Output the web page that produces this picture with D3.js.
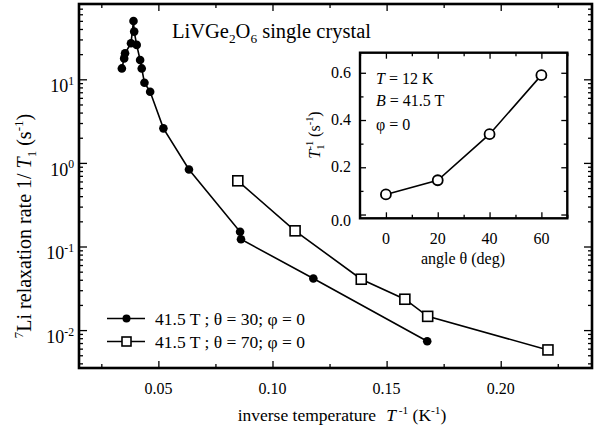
<!DOCTYPE html>
<html><head><meta charset="utf-8">
<script src="https://cdn.jsdelivr.net/npm/d3@7"></script>
<style>
body{margin:0;background:#fff}
svg text{font-family:"Liberation Serif","Times New Roman","DejaVu Serif",serif;fill:#000}
</style>
</head><body>
<svg id="c" width="597" height="434" font-family="Liberation Serif, Times New Roman, serif"></svg>
<script>
// ---- data ----
const theta30X = [0.0340,0.0350,0.0354,0.0380,0.0391,0.0394,0.0405,0.0420,0.0427,0.0439,0.0464,0.0522,0.0634,0.0858,0.0862,0.1179,0.1678];
const theta30Y = [13.5,17.8,20.5,27.0,49.9,37.2,25.8,17.0,13.5,9.1,7.1,2.59,0.835,0.150,0.122,0.0414,0.00734];
const theta70X = [0.0848,0.1099,0.1389,0.1580,0.1680,0.2207];
const theta70Y = [0.611,0.154,0.0406,0.0234,0.0146,0.00579];
const insetAngle = [0,20,40,60];
const insetRate = [0.085,0.145,0.34,0.59];
const xTickVals = [0.05,0.10,0.15,0.20];
const xTickLabels = ["0.05","0.10","0.15","0.20"];
const xMinorVals = [0.025,0.075,0.125,0.175,0.225];
const yTickVals = [0.01,0.1,1,10];
const yTickExp = ["-2","-1","0","1"];
const insetXTicks = [0,20,40,60];
const insetXMinor = [-10,10,30,50,70];
const insetYTicks = [0,0.2,0.4,0.6];
const insetYLabels = ["0.0","0.2","0.4","0.6"];
const insetYMinor = [0.1,0.3,0.5];
const legendLabels = ["41.5 T ; \u03B8 = 30; \u03C6 = 0","41.5 T ; \u03B8 = 70; \u03C6 = 0"];

const svg = d3.select("#c");

function rich(sel, parts, fs){
  let shift = 0;
  parts.forEach(p=>{
    const [s,k,dx] = p;
    const t = sel.append("tspan").text(s);
    let target = 0;
    if(k==="sup"){ t.attr("font-size", fs*0.65); target = -fs*0.42; }
    else if(k==="sub"){ t.attr("font-size", fs*0.65); target = fs*0.25; }
    if(k==="i") t.attr("font-style","italic");
    const dy = target - shift;
    if(dy) t.attr("dy", dy);
    if(dx) t.attr("dx", dx);
    shift = target;
  });
  return sel;
}

// ---- main scales ----
const L=79, R=592, T=4, B=368;
const x = d3.scaleLinear().domain([0.015,0.24]).range([78.5,R]);
const y = d3.scaleLog().domain([0.00352,79.6]).range([B,T]);

const yMinor = [];
[0.001,0.01,0.1,1,10].forEach(d=>{ for(let m=2;m<=9;m++){ const v=d*m; if(v>=y.domain()[0]&&v<=y.domain()[1]) yMinor.push(v);} });

function ticks(axisFn, scale, vals, size, tr){
  svg.append("g").attr("transform",tr)
    .call(axisFn(scale).tickValues(vals).tickSize(size).tickFormat(""))
    .call(g=>g.select(".domain").remove())
    .call(g=>g.selectAll("line").attr("stroke","#000").attr("stroke-width",1.3));
}
ticks(d3.axisBottom, x, xTickVals, -7, `translate(0,${B})`);
ticks(d3.axisBottom, x, xMinorVals, -4, `translate(0,${B})`);
ticks(d3.axisTop, x, xTickVals, -7, `translate(0,${T})`);
ticks(d3.axisTop, x, xMinorVals, -4, `translate(0,${T})`);
ticks(d3.axisLeft, y, yTickVals, -8, `translate(${L},0)`);
ticks(d3.axisLeft, y, yMinor, -4, `translate(${L},0)`);
ticks(d3.axisRight, y, yTickVals, -8, `translate(${R},0)`);
ticks(d3.axisRight, y, yMinor, -4, `translate(${R},0)`);

svg.append("rect").attr("x",L).attr("y",T).attr("width",R-L).attr("height",B-T)
  .attr("fill","none").attr("stroke","#000").attr("stroke-width",2.6);

// tick labels
xTickVals.forEach((v,i)=>{
  svg.append("text").attr("x",x(v)).attr("y",394).attr("text-anchor","middle")
    .attr("font-size",16).text(xTickLabels[i]);
});
yTickVals.forEach((v,i)=>{
  const t = svg.append("text").attr("x",74).attr("y",y(v)+13).attr("text-anchor","end").attr("font-size",18);
  rich(t,[["10","n"],[yTickExp[i],"sup"]],18);
});

// axis labels
rich(svg.append("text").attr("x",342).attr("y",421).attr("text-anchor","middle").attr("font-size",17.5),
  [["inverse temperature","n"],["T","i",10],[" -1","sup"],[" (K","n"],["-1","sup"],[")","n"]],17.5);
rich(svg.append("text").attr("transform","translate(31,226) rotate(-90)").attr("text-anchor","middle").attr("font-size",20),
  [["7","sup"],["Li relaxation rate 1/ ","n"],["T","i"],["1","sub"],[" (s","n"],["-1","sup"],[")","n"]],20);

// title
rich(svg.append("text").attr("x",172).attr("y",38).attr("font-size",20.5),
  [["LiVGe","n"],["2","sub"],["O","n"],["6","sub"],[" single crystal","n"]],20.5);

// ---- series ----
const d30 = theta30X.map((v,i)=>[v,theta30Y[i]]);
const d70 = theta70X.map((v,i)=>[v,theta70Y[i]]);
const line = d3.line().x(d=>x(d[0])).y(d=>y(d[1]));
svg.append("path").attr("d",line(d30)).attr("fill","none").attr("stroke","#000").attr("stroke-width",1.6);
svg.append("path").attr("d",line(d70)).attr("fill","none").attr("stroke","#000").attr("stroke-width",1.6);
svg.selectAll("circle.s30").data(d30).join("circle").attr("class","s30")
  .attr("cx",d=>x(d[0])).attr("cy",d=>y(d[1])).attr("r",4.3).attr("fill","#000");
const sq=10;
svg.selectAll("rect.s70").data(d70).join("rect").attr("class","s70")
  .attr("x",d=>x(d[0])-sq/2).attr("y",d=>y(d[1])-sq/2).attr("width",sq).attr("height",sq)
  .attr("fill","#fff").attr("stroke","#000").attr("stroke-width",1.6);

// legend
const lgY=[318.5,341.5];
lgY.forEach((ly,i)=>{
  svg.append("line").attr("x1",107).attr("x2",145).attr("y1",ly).attr("y2",ly).attr("stroke","#000").attr("stroke-width",1.6);
  if(i===0) svg.append("circle").attr("cx",126.5).attr("cy",ly).attr("r",4).attr("fill","#000");
  else svg.append("rect").attr("x",126.5-4.5).attr("y",ly-4.5).attr("width",9).attr("height",9).attr("fill","#fff").attr("stroke","#000").attr("stroke-width",1.6);
  svg.append("text").attr("x",155).attr("y",ly+6).attr("font-size",17.5).text(legendLabels[i]);
});

// ---- inset ----
const iL=360, iR=567.3, iT=52.7, iB=218.3;
const xi = d3.scaleLinear().domain([-10,70]).range([iL,iR]);
const yi = d3.scaleLinear().domain([-0.016,0.685]).range([iB,iT]);
svg.append("rect").attr("x",iL).attr("y",iT).attr("width",iR-iL).attr("height",iB-iT).attr("fill","#fff");
ticks(d3.axisBottom, xi, insetXTicks, -6, `translate(0,${iB})`);
ticks(d3.axisBottom, xi, insetXMinor, -3.5, `translate(0,${iB})`);
ticks(d3.axisTop, xi, insetXTicks, -6, `translate(0,${iT})`);
ticks(d3.axisTop, xi, insetXMinor, -3.5, `translate(0,${iT})`);
ticks(d3.axisLeft, yi, insetYTicks, -6, `translate(${iL},0)`);
ticks(d3.axisLeft, yi, insetYMinor, -3.5, `translate(${iL},0)`);
ticks(d3.axisRight, yi, insetYTicks, -6, `translate(${iR},0)`);
ticks(d3.axisRight, yi, insetYMinor, -3.5, `translate(${iR},0)`);
svg.append("rect").attr("x",iL).attr("y",iT).attr("width",iR-iL).attr("height",iB-iT)
  .attr("fill","none").attr("stroke","#000").attr("stroke-width",2.4);

insetXTicks.forEach(v=>{
  svg.append("text").attr("x",xi(v)).attr("y",244).attr("text-anchor","middle").attr("font-size",16).text(v);
});
insetYTicks.forEach((v,i)=>{
  svg.append("text").attr("x",351).attr("y",yi(v)+5+(i===0?6:0)).attr("text-anchor","end").attr("font-size",16).text(insetYLabels[i]);
});
svg.append("text").attr("x",463).attr("y",264).attr("text-anchor","middle").attr("font-size",16).text("angle \u03B8 (deg)");
rich(svg.append("text").attr("transform","translate(320,135) rotate(-90)").attr("text-anchor","middle").attr("font-size",16),
  [["T","i"],["1","sub"],["-1","sup",-5],[" (s","n"],["-1","sup"],[")","n"]],16);

rich(svg.append("text").attr("x",376).attr("y",83.5).attr("font-size",16),[["T","i"],[" = 12 K","n"]],16);
rich(svg.append("text").attr("x",376).attr("y",105.5).attr("font-size",16),[["B","i"],[" = 41.5 T","n"]],16);
svg.append("text").attr("x",376).attr("y",129.5).attr("font-size",16).text("\u03C6 = 0");

const di = insetAngle.map((a,i)=>[a,insetRate[i]]);
svg.append("path").attr("d",d3.line().x(d=>xi(d[0])).y(d=>yi(d[1]))(di))
  .attr("fill","none").attr("stroke","#000").attr("stroke-width",1.6);
svg.selectAll("circle.ins").data(di).join("circle").attr("class","ins")
  .attr("cx",d=>xi(d[0])).attr("cy",d=>yi(d[1])).attr("r",5).attr("fill","#fff").attr("stroke","#000").attr("stroke-width",1.8);
</script>
</body></html>
